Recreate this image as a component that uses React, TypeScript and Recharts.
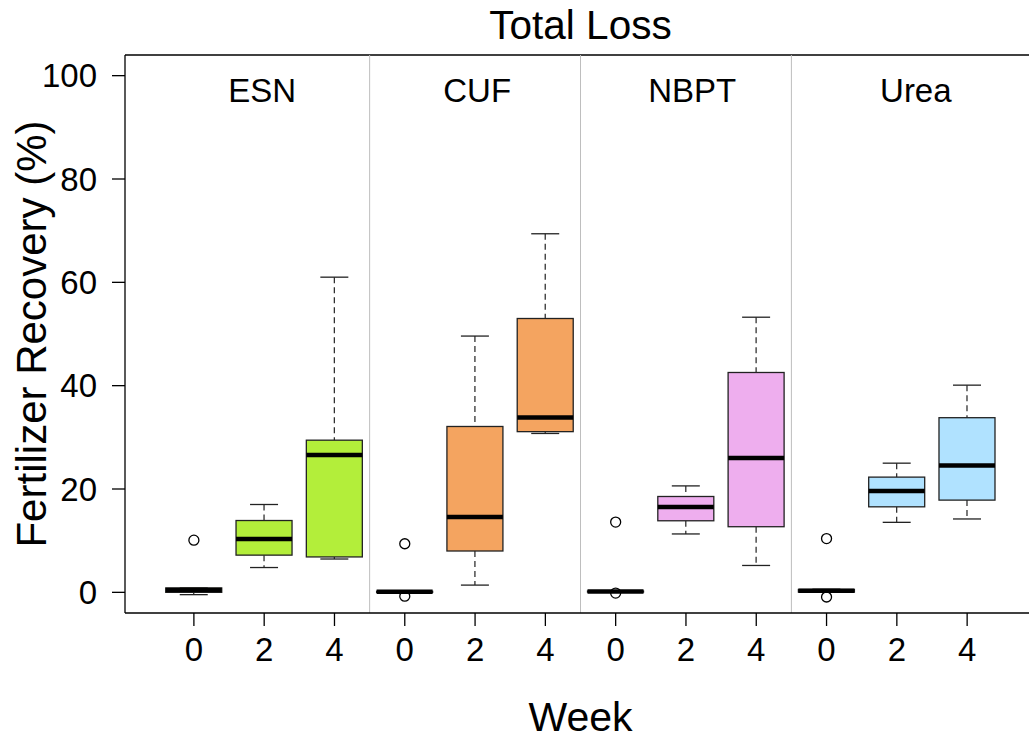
import { ComposedChart, Bar, Scatter, XAxis, YAxis, ReferenceLine } from 'recharts';

const treatments = ['ESN', 'CUF', 'NBPT', 'Urea'];
const weeks = ['0', '2', '4'];
const fills = ['#B3EE3A', '#F4A460', '#EEAEEE', '#B0E2FF'];

// box stats, ordered ESN 0/2/4, CUF 0/2/4, NBPT 0/2/4, Urea 0/2/4
const whiskerLow = [-0.45, 4.8, 6.45, 0.0, 1.4, 30.75, 0.0, 11.3, 5.2, 0.0, 13.55, 14.2];
const q1 = [0.0, 7.2, 6.85, 0.0, 8.0, 31.1, 0.05, 13.85, 12.7, 0.05, 16.55, 17.85];
const median = [0.45, 10.3, 26.6, 0.1, 14.6, 33.85, 0.15, 16.5, 26.0, 0.3, 19.6, 24.55];
const q3 = [0.85, 13.9, 29.45, 0.2, 32.1, 53.0, 0.25, 18.55, 42.55, 0.55, 22.3, 33.8];
const whiskerHigh = [0.85, 17.0, 61.0, 0.25, 49.6, 69.4, 0.3, 20.6, 53.25, 0.6, 25.0, 40.1];

// outlying points: which box, and the value
const outlierBox = [0, 3, 3, 6, 6, 9, 9];
const outlierValue = [10.1, 9.4, -0.75, 13.6, -0.15, 10.4, -0.9];

// where the panel names sit along the week axis
const panelLabelPos = [1.97, 5.03, 8.09, 11.27];

const FONT = '"Liberation Sans", Arial, Helvetica, sans-serif';

const boxes = q1.map((_, i) => ({
  pos: i + 1,
  lo: whiskerLow[i],
  q1: q1[i],
  med: median[i],
  q3: q3[i],
  hi: whiskerHigh[i],
  fill: fills[Math.floor(i / weeks.length)],
  span: [whiskerLow[i], whiskerHigh[i]],
}));

const outliers = outlierBox.map((b, i) => ({ pos: b + 1, value: outlierValue[i] }));

const separators = treatments.slice(1).map((_, i) => (i + 1) * weeks.length + 0.5);

function BoxShape(props: any) {
  const { x, y, width, height, payload } = props;
  const { lo, hi } = payload;
  const k = height / (hi - lo);
  const py = (v: number) => y + (hi - v) * k;
  const cx = x + width / 2;
  const cap = width / 4;
  return (
    <g>
      <line x1={cx} x2={cx} y1={py(hi)} y2={py(payload.q3)} stroke="#222" strokeWidth={1.2} strokeDasharray="6 4" />
      <line x1={cx} x2={cx} y1={py(payload.q1)} y2={py(lo)} stroke="#222" strokeWidth={1.2} strokeDasharray="6 4" />
      <line x1={cx - cap} x2={cx + cap} y1={py(hi)} y2={py(hi)} stroke="#222" strokeWidth={1.3} />
      <line x1={cx - cap} x2={cx + cap} y1={py(lo)} y2={py(lo)} stroke="#222" strokeWidth={1.3} />
      <rect x={x} y={py(payload.q3)} width={width} height={py(payload.q1) - py(payload.q3)} fill={payload.fill} stroke="#222" strokeWidth={1.3} />
      <line x1={x} x2={x + width} y1={py(payload.med)} y2={py(payload.med)} stroke="#000" strokeWidth={4.5} />
    </g>
  );
}

function OpenCircle(props: any) {
  const { cx, cy } = props;
  return <circle cx={cx} cy={cy} r={5} fill="none" stroke="#000" strokeWidth={1.3} />;
}

export default function App() {
  return (
    <div style={{ position: 'absolute', left: 0, top: 0, width: 1029, height: 740, background: '#fff' }}>
      <ComposedChart
        width={1029}
        height={740}
        data={boxes}
        margin={{ top: 55, right: 0, bottom: 0, left: 0 }}
      >
        <XAxis
          type="number"
          dataKey="pos"
          domain={[0.02, 12.88]}
          allowDataOverflow
          ticks={boxes.map((b) => b.pos)}
          interval={0}
          tickFormatter={(v: number) => weeks[(v - 1) % weeks.length]}
          height={127}
          tickSize={13}
          tickMargin={12}
          axisLine={{ stroke: '#000', strokeWidth: 1.3 }}
          tickLine={{ stroke: '#000', strokeWidth: 1.3 }}
          tick={{ fontSize: 33, fill: '#000', fontFamily: FONT }}
        />
        <YAxis
          type="number"
          domain={[-4, 104]}
          allowDataOverflow
          ticks={[0, 20, 40, 60, 80, 100]}
          width={125}
          tickSize={13}
          tickMargin={15}
          axisLine={{ stroke: '#000', strokeWidth: 1.3 }}
          tickLine={{ stroke: '#000', strokeWidth: 1.3 }}
          tick={{ fontSize: 33, fill: '#000', fontFamily: FONT }}
        />
        <ReferenceLine y={104} stroke="#000" strokeWidth={1.3} />
        {separators.map((s) => (
          <ReferenceLine key={s} x={s} stroke="#BEBEBE" strokeWidth={1} />
        ))}
        {treatments.map((t, i) => (
          <ReferenceLine
            key={t}
            x={panelLabelPos[i]}
            stroke="none"
            label={{ value: t, position: 'insideTop', offset: 24, fontSize: 33, fill: '#000', fontFamily: FONT }}
          />
        ))}
        <Bar dataKey="span" barSize={56} shape={BoxShape} isAnimationActive={false} />
        <Scatter data={outliers} dataKey="value" shape={OpenCircle} isAnimationActive={false} />
      </ComposedChart>
      <svg
        width={1029}
        height={740}
        style={{ position: 'absolute', left: 0, top: 0, pointerEvents: 'none' }}
        fontFamily={FONT}
      >
        <text x={580.5} y={39} fontSize={40.5} textAnchor="middle" fill="#000">Total Loss</text>
        <text x={580.5} y={731} fontSize={41} textAnchor="middle" fill="#000">Week</text>
        <text transform="translate(46, 334) rotate(-90)" fontSize={42} textAnchor="middle" fill="#000">
          Fertilizer Recovery (%)
        </text>
      </svg>
    </div>
  );
}
